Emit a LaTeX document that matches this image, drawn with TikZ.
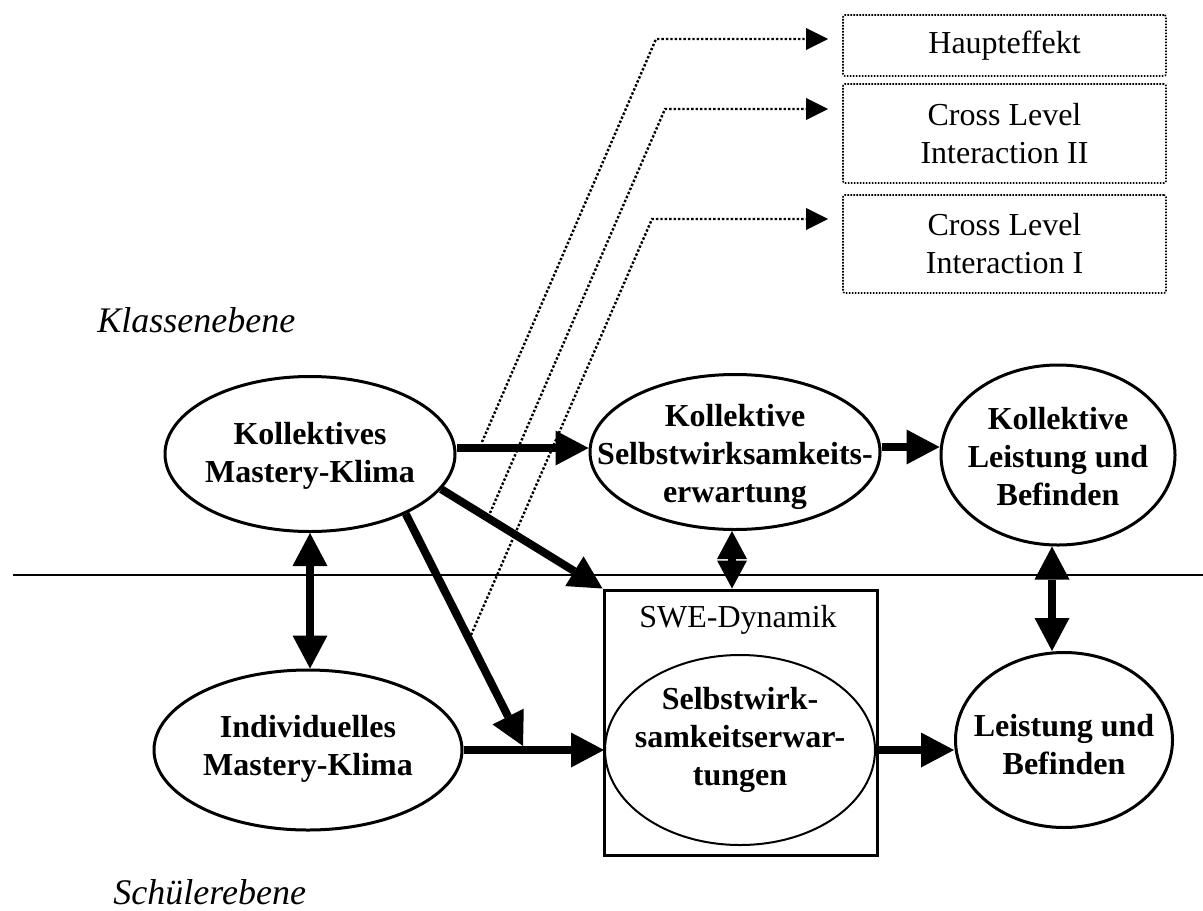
\documentclass[tikz,border=0pt]{standalone}
\usepackage{fontspec}
\setmainfont{Liberation Serif}
\usetikzlibrary{arrows.meta,shapes.geometric,calc}
\begin{document}
\begin{tikzpicture}[x=0.5pt,y=-0.5pt,
  every node/.style={font=\fontsize{16}{19}\selectfont, align=center, inner sep=0pt},
  ell/.style={ellipse, draw, line width=1.5pt, inner sep=0pt},
  txt/.style={font=\fontsize{16}{19}\selectfont\bfseries, align=center},
  legbox/.style={draw, rectangle, line width=0.8pt, dash pattern=on 0.8pt off 0.7pt, rounded corners=1pt, minimum width=161.5pt},
  dotarrow/.style={line width=1.2pt, dash pattern=on 1.2pt off 1pt, -{Triangle[length=11pt,width=11pt,line width=0pt]}},
  big/.style={line width=4pt, -{Triangle[length=16.5pt,width=17.5pt,line width=0pt]}},
  bigboth/.style={line width=4pt, {Triangle[length=16.5pt,width=17.5pt,line width=0pt]}-{Triangle[length=16.5pt,width=17.5pt,line width=0pt]}},
  smallboth/.style={line width=4pt, {Triangle[length=14pt,width=15pt,line width=0pt]}-{Triangle[length=14pt,width=15pt,line width=0pt]}},
  lvl/.style={font=\fontsize{18}{22}\selectfont\itshape, anchor=west}
]
\path[use as bounding box] (0,0) rectangle (1203,910);

% legend boxes
\node[legbox, minimum height=30.5pt] (H) at (1004.5,45.5) {Haupteffekt};
\node[legbox, minimum height=49.5pt] (C2) at (1004.5,133.5) {Cross Level\\Interaction II};
\node[legbox, minimum height=49pt] (C1) at (1004.5,244) {Cross Level\\Interaction I};

% level labels
\node[lvl] (kl) at (97,320) {Klassenebene};
\node[lvl] (sl) at (113,892) {Schülerebene};

% separator
\coordinate (sepL) at (13,575);
\coordinate (sepR) at (1203,575);
\draw[line width=0.9pt] (sepL) -- (sepR);

% ellipses and box
\node[ell, minimum width=145pt, minimum height=77.5pt] (KMK) at (310,454) {};
\node[txt] (KMKt) at (310,456) {Kollektives\\Mastery-Klima};
\node[ell, minimum width=145pt, minimum height=77.5pt] (KSWE) at (735,452) {};
\node[txt] (KSWEt) at (735,457) {Kollektive\\Selbstwirksamkeits-\\erwartung};
\node[ell, minimum width=117pt, minimum height=90pt] (KLB) at (1058,455) {};
\node[txt] (KLBt) at (1058,457) {Kollektive\\Leistung und\\Befinden};
\node[ell, minimum width=154pt, minimum height=80pt] (IMK) at (308,750) {};
\node[txt] (IMKt) at (308,749) {Individuelles\\Mastery-Klima};
\node[draw, rectangle, line width=1.5pt, minimum width=136.5pt, minimum height=132.5pt] (box) at (740.5,722.5) {};
\node (swelab) at (738,620) {SWE-Dynamik};
\node[ell, line width=1pt, minimum width=135pt, minimum height=95pt] (SW) at (740,750) {};
\node[txt] (SWt) at (740,740) {Selbstwirk-\\samkeitserwar-\\tungen};
\node[ell, minimum width=108.5pt, minimum height=87.5pt] (LB) at (1064,740) {};
\node[txt] (LBt) at (1064,745) {Leistung und\\Befinden};

% junction on the lower arrow
\coordinate (J) at (523,746);

% solid arrows
\draw[big] (KMK.east |- 0,448) -- (KSWE.west |- 0,448);
\draw[big] (KSWE.east |- 0,447) -- (KLB.west |- 0,447);
\draw[big] (KMK.-15) -- (box.north west);
\draw[big] (IMK.east |- 0,750) -- (SW.west |- 0,750);
\draw[big] (SW.east |- 0,750) -- (LB.west |- 0,750);
\draw[big] (KMK.-32) -- (J);
\draw[bigboth] (KMK.south -| 310,0) -- (IMK.north -| 310,0);
\draw[smallboth] (KSWE.south -| 732,0) -- (box.north -| 732,0);
\draw[bigboth] (KLB.south -| 1052,0) -- (LB.north -| 1052,0);

% dotted arrows
\coordinate (a0) at (482,442); \coordinate (a1) at (656,39);  \coordinate (a2) at (828,39);
\coordinate (b0) at (490,513); \coordinate (b1) at (665,109); \coordinate (b2) at (828,109);
\coordinate (c0) at (471,635); \coordinate (c1) at (652,219); \coordinate (c2) at (828,219);
\draw[dotarrow] (a0) -- (a1) -- (a2);
\draw[dotarrow] (b0) -- (b1) -- (b2);
\draw[dotarrow] (c0) -- (c1) -- (c2);
\end{tikzpicture}
\end{document}
